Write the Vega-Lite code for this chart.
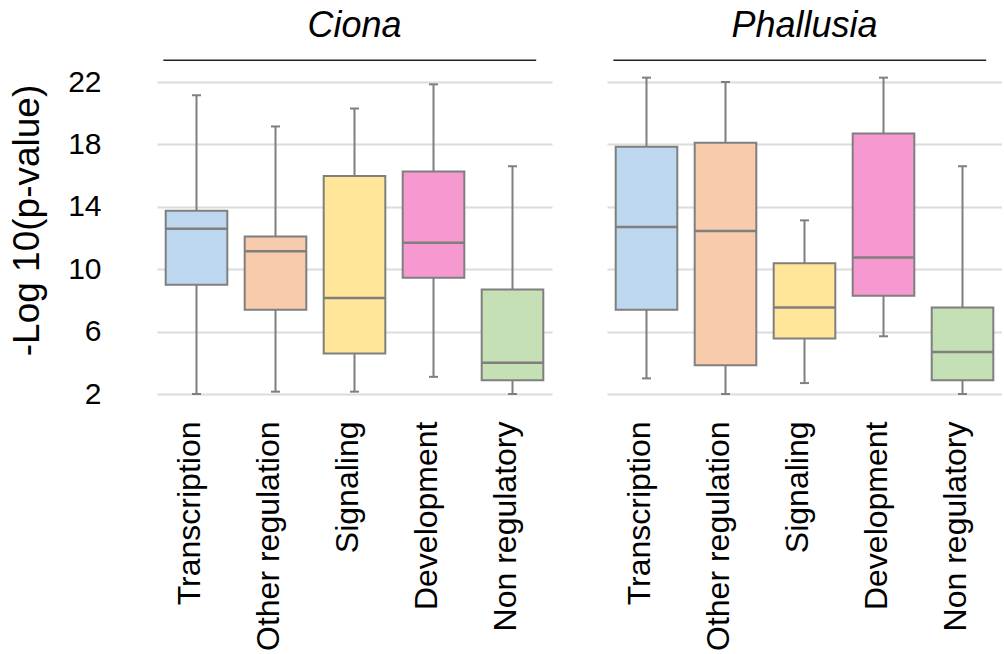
{
  "$schema": "https://vega.github.io/schema/vega-lite/v6.json",
  "background": "white",
  "padding": {"left": 8, "top": 8, "right": 0, "bottom": 0},
  "data": {"values": [
    {"species": "Ciona", "category": "Transcription", "min": 2.0, "q1": 9.0, "median": 12.6, "q3": 13.75, "max": 21.15},
    {"species": "Ciona", "category": "Other regulation", "min": 2.15, "q1": 7.4, "median": 11.15, "q3": 12.1, "max": 19.15},
    {"species": "Ciona", "category": "Signaling", "min": 2.15, "q1": 4.6, "median": 8.15, "q3": 15.97, "max": 20.3},
    {"species": "Ciona", "category": "Development", "min": 3.1, "q1": 9.45, "median": 11.7, "q3": 16.27, "max": 21.85},
    {"species": "Ciona", "category": "Non regulatory", "min": 2.0, "q1": 2.88, "median": 4.0, "q3": 8.7, "max": 16.6},
    {"species": "Phallusia", "category": "Transcription", "min": 3.0, "q1": 7.4, "median": 12.7, "q3": 17.85, "max": 22.28},
    {"species": "Phallusia", "category": "Other regulation", "min": 2.0, "q1": 3.85, "median": 12.45, "q3": 18.1, "max": 22.0},
    {"species": "Phallusia", "category": "Signaling", "min": 2.7, "q1": 5.55, "median": 7.55, "q3": 10.38, "max": 13.13},
    {"species": "Phallusia", "category": "Development", "min": 5.7, "q1": 8.3, "median": 10.75, "q3": 18.7, "max": 22.28},
    {"species": "Phallusia", "category": "Non regulatory", "min": 2.0, "q1": 2.88, "median": 4.7, "q3": 7.55, "max": 16.6}
  ]},
  "facet": {
    "column": {
      "field": "species", "type": "nominal", "sort": ["Ciona", "Phallusia"],
      "header": {"title": null, "labelFont": "Liberation Sans", "labelFontSize": 36, "labelFontStyle": "italic", "labelColor": "black", "labelPadding": 14}
    }
  },
  "spacing": 55,
  "spec": {
    "width": 395,
    "height": 312,
    "encoding": {
      "x": {
        "field": "category", "type": "nominal",
        "sort": ["Transcription", "Other regulation", "Signaling", "Development", "Non regulatory"],
        "scale": {"paddingInner": 0, "paddingOuter": 0},
        "axis": {"title": null, "labelAngle": -90, "labelBaseline": "alphabetic", "labelOffset": 3, "labelPadding": 26, "labelLimit": 0, "domain": false, "ticks": false, "labelFont": "Liberation Sans", "labelFontSize": 32, "labelColor": "black"}
      }
    },
    "layer": [
      {
        "mark": {"type": "rule", "color": "#7f7f7f", "strokeWidth": 2},
        "encoding": {
          "y": {"field": "min", "type": "quantitative", "scale": {"domain": [2, 22], "nice": false, "zero": false},
            "axis": {"title": "-Log 10(p-value)", "values": [2, 4, 6, 8, 10, 12, 14, 16, 18, 20, 22],
              "labelExpr": "(datum.value - 2) % 4 == 0 ? datum.label : ''",
              "domain": false, "ticks": false, "labelPadding": 56, "titlePadding": 21, "titleY": 138,
              "grid": true, "gridColor": "#dcdcdc", "gridWidth": 2,
              "labelFont": "Liberation Sans", "labelFontSize": 30, "labelColor": "black",
              "titleFont": "Liberation Sans", "titleFontSize": 37, "titleFontWeight": "normal", "titleColor": "black"}},
          "y2": {"field": "max"}
        }
      },
      {
        "mark": {"type": "bar", "width": {"band": 0.78}, "stroke": "#7f7f7f", "strokeWidth": 2},
        "encoding": {
          "y": {"field": "q1", "type": "quantitative"},
          "y2": {"field": "q3"},
          "color": {"field": "category", "type": "nominal", "legend": null,
            "scale": {"domain": ["Transcription", "Other regulation", "Signaling", "Development", "Non regulatory"],
              "range": ["#bdd7ee", "#f8cbad", "#ffe699", "#f799d1", "#c5e0b4"]}}
        }
      },
      {
        "mark": {"type": "tick", "color": "#7f7f7f", "size": 61, "thickness": 2.5, "opacity": 1},
        "encoding": {"y": {"field": "median", "type": "quantitative"}}
      },
      {
        "mark": {"type": "tick", "color": "#7f7f7f", "size": 9, "thickness": 2, "opacity": 1},
        "encoding": {"y": {"field": "min", "type": "quantitative"}}
      },
      {
        "mark": {"type": "tick", "color": "#7f7f7f", "size": 9, "thickness": 2, "opacity": 1},
        "encoding": {"y": {"field": "max", "type": "quantitative"}}
      },
      {
        "transform": [{"filter": "datum.category == 'Transcription'"}],
        "mark": {"type": "rule", "color": "#222222", "strokeWidth": 1.5},
        "encoding": {
          "x": {"datum": "Transcription", "bandPosition": 0.08},
          "x2": {"datum": "Non regulatory", "bandPosition": 0.8},
          "y": {"datum": 23.4, "type": "quantitative"}
        }
      }
    ]
  },
  "config": {
    "view": {"stroke": null}
  }
}
